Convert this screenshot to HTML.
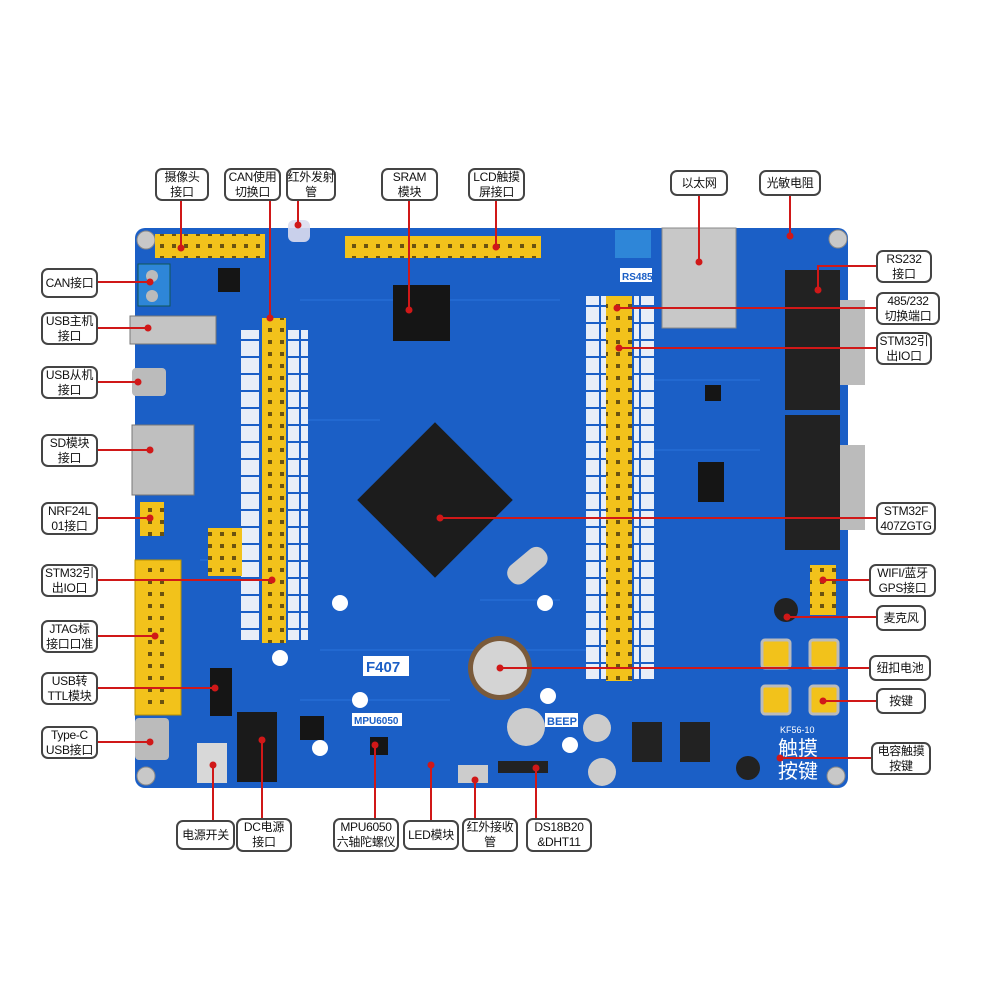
<!DOCTYPE html>
<html><head><meta charset="utf-8"><style>
body{margin:0;width:1000px;height:1000px;background:#fff;position:relative;overflow:hidden;font-family:"Liberation Sans","Noto Sans CJK SC",sans-serif}
.l{position:absolute;background:#fff;border:2px solid #444;border-radius:7px;font-size:12px;line-height:15px;text-align:center;color:#111;display:flex;align-items:center;justify-content:center;box-sizing:border-box;z-index:3;white-space:nowrap;letter-spacing:-0.3px}
svg{position:absolute;left:0;top:0}
</style></head><body>
<svg width="1000" height="1000" viewBox="0 0 1000 1000">
<defs>
<pattern id="pin" width="12" height="12" patternUnits="userSpaceOnUse"><rect width="12" height="12" fill="#f2c21b"/><rect x="4" y="4" width="4" height="4" fill="#6a5210"/></pattern>
<pattern id="lab" width="20" height="17" patternUnits="userSpaceOnUse"><rect width="20" height="17" fill="#1b5fc6"/><rect x="1" y="1" width="18" height="15" fill="#e8eef8"/></pattern>
</defs>
<rect x="135" y="228" width="713" height="560" rx="10" fill="#1b5fc6"/>
<g stroke="#2a74dc" stroke-width="1.5" fill="none" opacity=".7">
<path d="M300 300 L560 300 M300 420 L380 420 M480 600 L560 600 M320 650 L600 650 M650 380 L760 380 M650 450 L760 450 M200 560 L260 560 M300 700 L450 700"/>
</g>
<g fill="#c8c8c8" stroke="#888"><circle cx="146" cy="240" r="9"/><circle cx="838" cy="239" r="9"/><circle cx="146" cy="776" r="9"/><circle cx="836" cy="776" r="9"/></g>
<g fill="#fff"><circle cx="340" cy="603" r="8"/><circle cx="545" cy="603" r="8"/><circle cx="280" cy="658" r="8"/><circle cx="360" cy="700" r="8"/><circle cx="320" cy="748" r="8"/><circle cx="548" cy="696" r="8"/><circle cx="570" cy="745" r="8"/></g>
<rect x="155" y="234" width="110" height="24" fill="url(#pin)"/>
<rect x="345" y="236" width="196" height="22" fill="url(#pin)"/>
<rect x="288" y="220" width="22" height="22" rx="6" fill="#dde" opacity=".9"/>
<rect x="138" y="264" width="32" height="42" fill="#2e86d8" stroke="#155"/>
<circle cx="152" cy="276" r="6" fill="#bbb"/><circle cx="152" cy="296" r="6" fill="#bbb"/>
<rect x="130" y="316" width="86" height="28" fill="#c4c4c4" stroke="#777"/>
<rect x="132" y="368" width="34" height="28" rx="4" fill="#bbb"/>
<rect x="132" y="425" width="62" height="70" fill="#bfbfbf" stroke="#777"/>
<rect x="140" y="502" width="24" height="34" fill="url(#pin)"/>
<rect x="135" y="560" width="46" height="155" fill="#f2c21b" stroke="#b89000"/>
<rect x="145" y="565" width="26" height="145" fill="url(#pin)"/>
<rect x="135" y="718" width="34" height="42" rx="4" fill="#bbb"/>
<rect x="262" y="318" width="24" height="325" fill="url(#pin)"/>
<rect x="240" y="330" width="20" height="310" fill="url(#lab)"/><rect x="288" y="330" width="20" height="310" fill="url(#lab)"/>
<rect x="208" y="528" width="34" height="48" fill="url(#pin)"/>
<rect x="393" y="285" width="57" height="56" fill="#151515"/>
<rect x="380" y="445" width="110" height="110" fill="#1c1c1c" transform="rotate(45 435 500)"/>
<rect x="505" y="555" width="45" height="22" rx="10" fill="#ccc" transform="rotate(-40 527 566)"/>
<rect x="606" y="296" width="26" height="385" fill="url(#pin)"/>
<rect x="586" y="296" width="20" height="385" fill="url(#lab)"/><rect x="634" y="296" width="20" height="385" fill="url(#lab)"/>
<rect x="615" y="230" width="36" height="28" fill="#2e86d8"/>
<rect x="662" y="228" width="74" height="100" fill="#c8c8c8" stroke="#888"/>
<rect x="785" y="270" width="55" height="140" fill="#222"/>
<rect x="840" y="300" width="25" height="85" fill="#bbb"/>
<rect x="785" y="415" width="55" height="135" fill="#222"/>
<rect x="840" y="445" width="25" height="85" fill="#bbb"/>
<rect x="698" y="462" width="26" height="40" fill="#151515"/>
<rect x="705" y="385" width="16" height="16" fill="#151515"/>
<rect x="210" y="668" width="22" height="48" fill="#151515"/>
<rect x="218" y="268" width="22" height="24" fill="#151515"/>
<rect x="370" y="737" width="18" height="18" fill="#151515"/>
<rect x="300" y="716" width="24" height="24" fill="#151515"/>
<rect x="810" y="565" width="26" height="50" fill="url(#pin)"/>
<circle cx="786" cy="610" r="12" fill="#222"/>
<g fill="#f2c21b" stroke="#bbb" stroke-width="3"><rect x="762" y="640" width="28" height="28" rx="3"/><rect x="810" y="640" width="28" height="28" rx="3"/><rect x="762" y="686" width="28" height="28" rx="3"/><rect x="810" y="686" width="28" height="28" rx="3"/></g>
<circle cx="748" cy="768" r="12" fill="#222"/>
<circle cx="500" cy="668" r="32" fill="#7a5a3a"/><circle cx="500" cy="668" r="27" fill="#d4d4d4"/>
<circle cx="526" cy="727" r="19" fill="#ccc"/>
<circle cx="597" cy="728" r="14" fill="#ccc"/><circle cx="602" cy="772" r="14" fill="#ccc"/>
<rect x="632" y="722" width="30" height="40" fill="#222"/><rect x="680" y="722" width="30" height="40" fill="#222"/>
<rect x="237" y="712" width="40" height="70" fill="#1a1a1a"/>
<rect x="197" y="743" width="30" height="40" fill="#d8d8d8"/>
<rect x="458" y="765" width="30" height="18" fill="#ccc"/>
<rect x="498" y="761" width="50" height="12" fill="#222"/>
<g font-family="Liberation Sans" font-size="15" fill="#fff" font-weight="bold">
<rect x="363" y="656" width="46" height="20" fill="#fff"/><text x="366" y="672" fill="#1b5fc6">F407</text>
<rect x="620" y="268" width="32" height="14" fill="#fff"/><text x="622" y="280" fill="#1b5fc6" font-size="10">RS485</text>
<rect x="352" y="713" width="50" height="13" fill="#fff"/><text x="354" y="724" fill="#1b5fc6" font-size="10">MPU6050</text>
<rect x="545" y="713" width="33" height="14" fill="#fff"/><text x="547" y="725" fill="#1b5fc6" font-size="11">BEEP</text>
<text x="780" y="733" font-size="9" font-weight="normal">KF56-10</text>
<text x="778" y="755" font-size="20" font-weight="normal" font-family="Noto Sans CJK SC">触摸</text>
<text x="778" y="778" font-size="20" font-weight="normal" font-family="Noto Sans CJK SC">按键</text>
</g>
<g stroke="#d01818" stroke-width="2" fill="none">
<path d="M181 200V248 M270 200V318 M298 200V225 M409 200V310 M496 200V247 M699 195V262 M790 195V236
M97 282H150 M97 328H148 M97 382H138 M97 450H150 M97 518H150 M97 580H272 M97 636H155 M97 688H215 M97 742H150
M878 266H818V290 M878 308H617 M878 348H619 M878 518H440 M870 580H823 M878 617H787 M870 668H500 M878 701H823 M872 758H780
M213 822V765 M262 820V740 M375 818V745 M431 822V765 M475 818V780 M536 818V768"/>
</g>
<g fill="#d01818">
<circle cx="181" cy="248" r="3.5"/><circle cx="270" cy="318" r="3.5"/><circle cx="298" cy="225" r="3.5"/><circle cx="409" cy="310" r="3.5"/><circle cx="496" cy="247" r="3.5"/><circle cx="699" cy="262" r="3.5"/><circle cx="790" cy="236" r="3.5"/>
<circle cx="150" cy="282" r="3.5"/><circle cx="148" cy="328" r="3.5"/><circle cx="138" cy="382" r="3.5"/><circle cx="150" cy="450" r="3.5"/><circle cx="150" cy="518" r="3.5"/><circle cx="272" cy="580" r="3.5"/><circle cx="155" cy="636" r="3.5"/><circle cx="215" cy="688" r="3.5"/><circle cx="150" cy="742" r="3.5"/>
<circle cx="818" cy="290" r="3.5"/><circle cx="617" cy="308" r="3.5"/><circle cx="619" cy="348" r="3.5"/><circle cx="440" cy="518" r="3.5"/><circle cx="823" cy="580" r="3.5"/><circle cx="787" cy="617" r="3.5"/><circle cx="500" cy="668" r="3.5"/><circle cx="823" cy="701" r="3.5"/><circle cx="780" cy="758" r="3.5"/>
<circle cx="213" cy="765" r="3.5"/><circle cx="262" cy="740" r="3.5"/><circle cx="375" cy="745" r="3.5"/><circle cx="431" cy="765" r="3.5"/><circle cx="475" cy="780" r="3.5"/><circle cx="536" cy="768" r="3.5"/>
</g>
</svg>
<div class="l" style="left:155px;top:168px;width:54px;height:33px">摄像头<br>接口</div>
<div class="l" style="left:224px;top:168px;width:57px;height:33px">CAN使用<br>切换口</div>
<div class="l" style="left:286px;top:168px;width:50px;height:33px">红外发射<br>管</div>
<div class="l" style="left:381px;top:168px;width:57px;height:33px">SRAM<br>模块</div>
<div class="l" style="left:468px;top:168px;width:57px;height:33px">LCD触摸<br>屏接口</div>
<div class="l" style="left:670px;top:170px;width:58px;height:26px">以太网</div>
<div class="l" style="left:759px;top:170px;width:62px;height:26px">光敏电阻</div>
<div class="l" style="left:41px;top:268px;width:57px;height:30px">CAN接口</div>
<div class="l" style="left:41px;top:312px;width:57px;height:33px">USB主机<br>接口</div>
<div class="l" style="left:41px;top:366px;width:57px;height:33px">USB从机<br>接口</div>
<div class="l" style="left:41px;top:434px;width:57px;height:33px">SD模块<br>接口</div>
<div class="l" style="left:41px;top:502px;width:57px;height:33px">NRF24L<br>01接口</div>
<div class="l" style="left:41px;top:564px;width:57px;height:33px">STM32引<br>出IO口</div>
<div class="l" style="left:41px;top:620px;width:57px;height:33px">JTAG标<br>接口口准</div>
<div class="l" style="left:41px;top:672px;width:57px;height:33px">USB转<br>TTL模块</div>
<div class="l" style="left:41px;top:726px;width:57px;height:33px">Type-C<br>USB接口</div>
<div class="l" style="left:876px;top:250px;width:56px;height:33px">RS232<br>接口</div>
<div class="l" style="left:876px;top:292px;width:64px;height:33px">485/232<br>切换端口</div>
<div class="l" style="left:876px;top:332px;width:56px;height:33px">STM32引<br>出IO口</div>
<div class="l" style="left:876px;top:502px;width:60px;height:33px">STM32F<br>407ZGTG</div>
<div class="l" style="left:869px;top:564px;width:67px;height:33px">WIFI/蓝牙<br>GPS接口</div>
<div class="l" style="left:876px;top:605px;width:50px;height:26px">麦克风</div>
<div class="l" style="left:869px;top:655px;width:62px;height:26px">纽扣电池</div>
<div class="l" style="left:876px;top:688px;width:50px;height:26px">按键</div>
<div class="l" style="left:871px;top:742px;width:60px;height:33px">电容触摸<br>按键</div>
<div class="l" style="left:176px;top:820px;width:59px;height:30px">电源开关</div>
<div class="l" style="left:236px;top:818px;width:56px;height:34px">DC电源<br>接口</div>
<div class="l" style="left:333px;top:818px;width:66px;height:34px">MPU6050<br>六轴陀螺仪</div>
<div class="l" style="left:403px;top:820px;width:56px;height:30px">LED模块</div>
<div class="l" style="left:462px;top:818px;width:56px;height:34px">红外接收<br>管</div>
<div class="l" style="left:526px;top:818px;width:66px;height:34px">DS18B20<br>&amp;DHT11</div>
</body></html>
